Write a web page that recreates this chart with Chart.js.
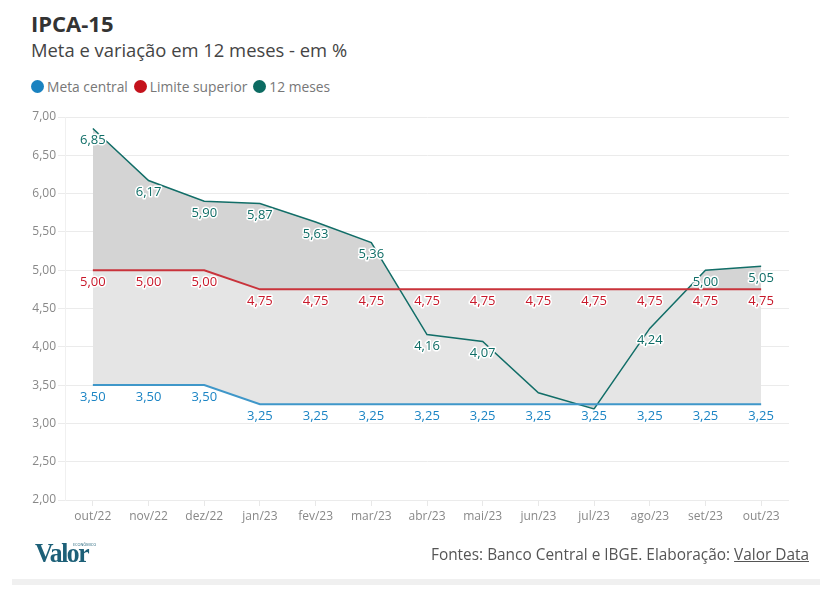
<!DOCTYPE html>
<html lang="pt-BR">
<head>
<meta charset="UTF-8">
<title>IPCA-15</title>
<script src="https://cdn.jsdelivr.net/npm/chart.js@4.4.0/dist/chart.umd.min.js"></script>
<style>
    body { margin: 0; width: 838px; height: 595px; background: #fff; font-family: "Open Sans", sans-serif; position: relative; overflow: hidden; }
    .title { position: absolute; left: 31px; top: 8px; font-size: 22px; font-weight: bold; color: #333; }
    .subtitle { position: absolute; left: 31px; top: 37px; font-size: 18.4px; color: #444; }
    .legend { position: absolute; left: 31px; top: 77px; font-size: 13.8px; color: #777; display: flex; }
    .legend span { display: flex; align-items: center; margin-right: 6px; }
    .legend i { width: 13px; height: 13px; border-radius: 50%; display: inline-block; margin-right: 3px; }
    .chart-box { position: absolute; left: 0; top: 105px; width: 838px; height: 440px; }
    .logo { position: absolute; left: 35px; top: 538px; font-family: "Liberation Serif", serif; font-weight: bold; font-size: 27px; color: #1d6078; letter-spacing: -1.5px; transform: scaleX(0.95); transform-origin: left top; }
    .logo small { position: absolute; left: 40px; top: 4px; font-size: 4px; font-weight: normal; font-family: "Open Sans", sans-serif; letter-spacing: 0; }
    .source { position: absolute; right: 29px; top: 544px; font-size: 15.4px; color: #555; }
    .source u { text-decoration: underline; }
    .bottom-bar { position: absolute; left: 12px; top: 579px; width: 808px; height: 6px; background: #f0f0f0; }
</style>
</head>
<body>
<div class="title">IPCA-15</div>
<div class="subtitle">Meta e variação em 12 meses - em %</div>
<div class="legend">
    <span><i style="background:#1a82c0"></i>Meta central</span>
    <span><i style="background:#c4121c"></i>Limite superior</span>
    <span><i style="background:#0c6b62"></i>12 meses</span>
</div>
<div class="chart-box"><canvas id="chart"></canvas></div>
<div class="logo">Valor<small>ECONÔMICO</small></div>
<div class="source">Fontes: Banco Central e IBGE. Elaboração: <u>Valor Data</u></div>
<div class="bottom-bar"></div>

<script>
    const months = ['out/22', 'nov/22', 'dez/22', 'jan/23', 'fev/23', 'mar/23', 'abr/23', 'mai/23', 'jun/23', 'jul/23', 'ago/23', 'set/23', 'out/23'];
    const metaCentral = [3.50, 3.50, 3.50, 3.25, 3.25, 3.25, 3.25, 3.25, 3.25, 3.25, 3.25, 3.25, 3.25];
    const limiteSuperior = [5.00, 5.00, 5.00, 4.75, 4.75, 4.75, 4.75, 4.75, 4.75, 4.75, 4.75, 4.75, 4.75];
    const doze = [6.85, 6.17, 5.90, 5.87, 5.63, 5.36, 4.16, 4.07, 3.40, 3.19, 4.24, 5.00, 5.05];

    const fmt = v => v.toFixed(2).replace('.', ',');

    // value labels under each point, white halo, hide the ones that collide
    const valueLabels = {
        id: 'valueLabels',
        afterDatasetsDraw(chart) {
            const ctx = chart.ctx;
            const placed = [];
            ctx.save();
            ctx.font = '13px "Open Sans", sans-serif';
            ctx.textAlign = 'center';
            ctx.textBaseline = 'middle';
            ctx.lineJoin = 'round';
            [1, 0, 2].forEach(di => {
                const ds = chart.data.datasets[di];
                const meta = chart.getDatasetMeta(di);
                meta.data.forEach((pt, i) => {
                    const x = pt.x, y = pt.y + 12;
                    const hit = placed.some(p => Math.abs(p.x - x) < 30 && Math.abs(p.y - y) < 13);
                    if (hit) return;
                    placed.push({ x, y });
                    const txt = fmt(ds.data[i]);
                    ctx.strokeStyle = '#fff';
                    ctx.lineWidth = 3;
                    ctx.strokeText(txt, x, y);
                    ctx.fillStyle = ds.labelColor;
                    ctx.fillText(txt, x, y);
                });
            });
            ctx.restore();
        }
    };

    new Chart(document.getElementById('chart'), {
        type: 'line',
        data: {
            labels: months,
            datasets: [
                {
                    label: 'Meta central',
                    data: metaCentral,
                    borderColor: '#3f97c9',
                    labelColor: '#1b84c4',
                    borderWidth: 2,
                    pointRadius: 0,
                    tension: 0,
                    fill: { target: 2, above: '#d4d4d4', below: 'rgba(0,0,0,0)' }
                },
                {
                    label: 'Limite superior',
                    data: limiteSuperior,
                    borderColor: '#c9333b',
                    labelColor: '#c8182a',
                    borderWidth: 2,
                    pointRadius: 0,
                    tension: 0,
                    fill: { target: 0, above: '#e5e5e5', below: '#e5e5e5' }
                },
                {
                    label: '12 meses',
                    data: doze,
                    borderColor: '#126e68',
                    labelColor: '#0f6d66',
                    borderWidth: 1.5,
                    pointRadius: 0,
                    tension: 0,
                    fill: { target: 1, above: '#d4d4d4', below: 'rgba(0,0,0,0)' }
                }
            ]
        },
        options: {
            responsive: true,
            maintainAspectRatio: false,
            animation: false,
            layout: { padding: { top: 12, right: 49, bottom: 15, left: 0 } },
            plugins: {
                legend: { display: false },
                tooltip: { enabled: false },
                filler: { drawTime: 'beforeDatasetsDraw' }
            },
            scales: {
                x: {
                    offset: true,
                    grid: { display: true, drawOnChartArea: false, drawTicks: true, tickLength: 6, color: '#e8e8e8' },
                    border: { display: false },
                    ticks: { color: '#888', font: { family: 'Open Sans', size: 12 }, padding: 3, maxRotation: 0, autoSkip: false },
                    afterFit: s => { s.height = 30; }
                },
                y: {
                    min: 2,
                    max: 7,
                    grid: { color: '#ebebeb', tickLength: 7 },
                    border: { display: true, color: '#f0f0f0' },
                    ticks: { stepSize: 0.5, color: '#888', font: { family: 'Open Sans', size: 12 }, padding: 2, callback: v => fmt(v) },
                    afterFit: s => { s.width = 65; }
                }
            }
        },
        plugins: [valueLabels]
    });
</script>
</body>
</html>
